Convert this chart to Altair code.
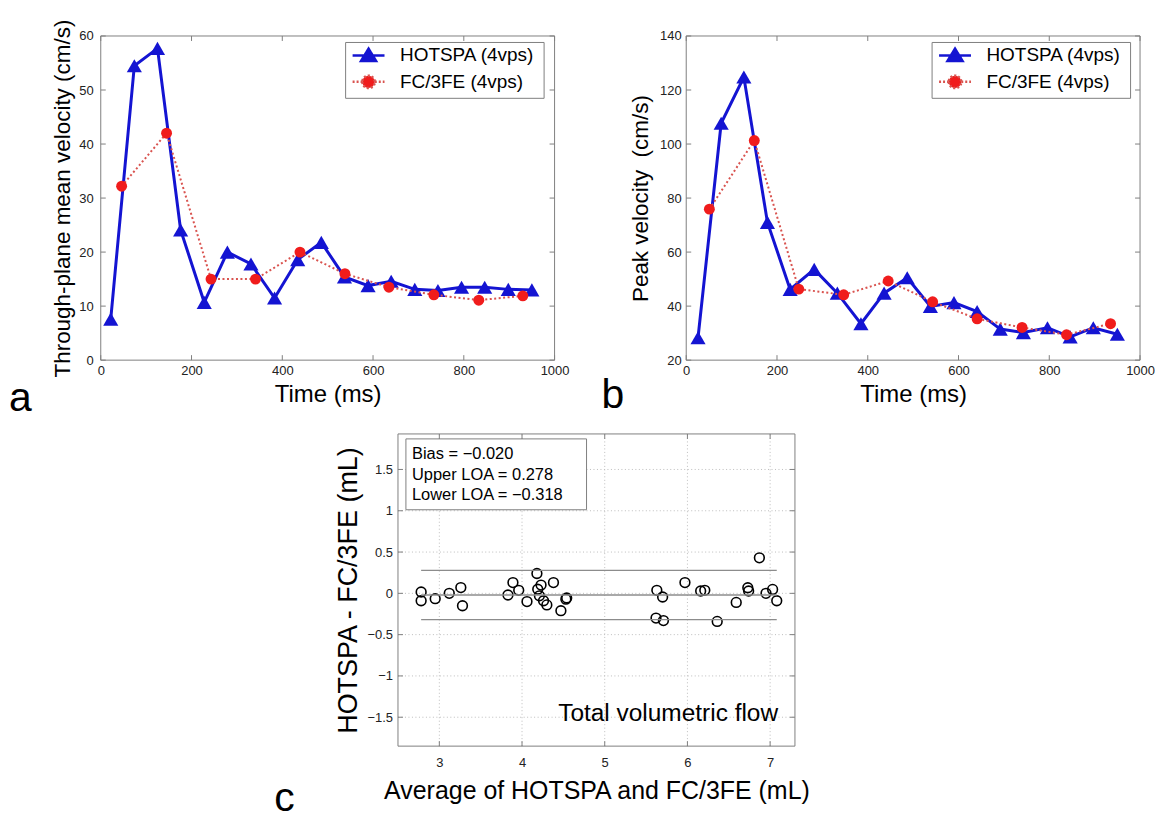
import altair as alt
import pandas as pd

# ---------------- data ----------------
series_names = ["HOTSPA (4vps)", "FC/3FE (4vps)"]

# panel a : through-plane mean velocity
a_hot_t = [22, 74, 125, 176, 228, 279, 331, 383, 434, 486, 537, 589, 640, 692, 743, 795, 846, 898, 950]
a_hot_v = [7.6, 54.5, 57.7, 24.1, 10.7, 20.0, 17.8, 11.5, 18.6, 21.8, 15.4, 13.8, 14.6, 13.1, 12.9, 13.5, 13.5, 13.1, 13.0]
a_fc_t = [46, 145, 243, 341, 439, 538, 635, 734, 833, 930]
a_fc_v = [32.2, 42.0, 15.0, 15.0, 20.0, 16.0, 13.5, 12.1, 11.1, 11.9]

# panel b : peak velocity
b_hot_t = [26, 77, 127, 179, 229, 282, 333, 385, 436, 487, 538, 590, 641, 692, 743, 796, 846, 897, 950]
b_hot_v = [28.3, 107.7, 124.8, 71.0, 46.2, 53.6, 44.8, 33.5, 44.8, 50.5, 39.9, 41.3, 38.0, 31.5, 30.2, 32.0, 28.6, 32.0, 29.6]
b_fc_t = [51, 150, 248, 347, 445, 543, 641, 740, 838, 935]
b_fc_v = [75.9, 101.3, 46.3, 44.2, 49.3, 41.6, 35.3, 32.1, 29.4, 33.5]

# panel c : Bland-Altman
c_avg = [2.78, 2.78, 2.95, 3.12, 3.26, 3.28, 3.83, 3.89, 3.96, 4.06, 4.18, 4.19, 4.23, 4.21,
         4.26, 4.30, 4.38, 4.47, 4.53, 4.54, 5.63, 5.70, 5.62, 5.71, 5.97, 6.16, 6.21, 6.36,
         6.59, 6.73, 6.74, 6.87, 6.95, 7.03, 7.08]
c_diff = [0.016, -0.09, -0.065, 0.0, 0.07, -0.15, -0.02, 0.13, 0.036, -0.10, 0.24, 0.05, 0.10, -0.03,
          -0.09, -0.14, 0.13, -0.21, -0.07, -0.056, 0.036, -0.044, -0.30, -0.33, 0.13, 0.028, 0.036, -0.34,
          -0.11, 0.068, 0.028, 0.43, 0.0, 0.048, -0.09]
stat_names = ["Bias", "Upper LOA", "Lower LOA"]
stat_values = [-0.020, 0.278, -0.318]

time_ticks = [0, 200, 400, 600, 800, 1000]
a_y_ticks = [0, 10, 20, 30, 40, 50, 60]
b_y_ticks = [20, 40, 60, 80, 100, 120, 140]
c_x_ticks = [3, 4, 5, 6, 7]
c_y_ticks = [-1.5, -1, -0.5, 0, 0.5, 1, 1.5]
c_x_domain = [2.5, 7.3]
c_y_domain = [-1.85, 1.93]
panel_letters = ["a", "b", "c"]

# ---------------- styles / layout ----------------
FONT = "Liberation Sans"
BLUE = "#1414d2"
RED = "#f01c1c"
SALMON = "#d9534f"
FRAME = "#808080"
LABEL = "#222222"
GRID = "#bdbdbd"
TICK_PX = 5

W, H = 1042, 712            # whole drawing area (plot-area coordinates)
A_X, B_X = [0, 455], [587, 1042]
AB_Y = [325, 0]
C_X, C_Y = [298, 696], [712, 399]

path_hot = "M-2,0H2M0,-0.85L0.95,0.7L-0.95,0.7Z"
path_fc = "M-2,0H-0.78M0.78,0H2M-0.78,0A0.78,0.78 0 1,0 0.78,0A0.78,0.78 0 1,0 -0.78,0Z"


def inward_ticks(xf, yf, x_def, y_def, x_vals, y_vals, xdom, ydom, xpx, ypx):
    """MATLAB-like inward ticks on all four sides, drawn through the panel's scales."""
    lx = TICK_PX * (xdom[1] - xdom[0]) / xpx
    ly = TICK_PX * (ydom[1] - ydom[0]) / ypx
    bottom = pd.DataFrame({xf: x_vals, yf: [ydom[0]] * len(x_vals), "e": [ydom[0] + ly] * len(x_vals)})
    top = pd.DataFrame({xf: x_vals, yf: [ydom[1]] * len(x_vals), "e": [ydom[1] - ly] * len(x_vals)})
    left = pd.DataFrame({yf: y_vals, xf: [xdom[0]] * len(y_vals), "e": [xdom[0] + lx] * len(y_vals)})
    right = pd.DataFrame({yf: y_vals, xf: [xdom[1]] * len(y_vals), "e": [xdom[1] - lx] * len(y_vals)})
    layers = []
    for df in (bottom, top):
        layers.append(alt.Chart(df).mark_rule(color=FRAME, strokeWidth=1).encode(x=x_def, y=y_def, y2="e:Q"))
    for df in (left, right):
        layers.append(alt.Chart(df).mark_rule(color=FRAME, strokeWidth=1).encode(x=x_def, x2="e:Q", y=y_def))
    return layers


def velocity_panel(hot_t, hot_v, fc_t, fc_v, y_ticks, y_title, x_range, letter,
                   letter_x, letter_y, legend_x, y_label_pad, y_title_pad):
    hot = pd.DataFrame({"t": hot_t, "v": hot_v})
    fc = pd.DataFrame({"t": fc_t, "v": fc_v})
    leg_df = pd.DataFrame({"series": series_names, "t": [hot_t[0]] * 2, "v": [hot_v[0]] * 2})
    xdom = [time_ticks[0], time_ticks[-1]]
    ydom = [y_ticks[0], y_ticks[-1]]
    xs = alt.Scale(domain=xdom, range=x_range, nice=False, zero=False)
    ys = alt.Scale(domain=ydom, range=AB_Y, nice=False, zero=False)
    x = alt.X("t:Q", scale=xs,
              axis=alt.Axis(orient="bottom", offset=-(H - AB_Y[0]), values=time_ticks, format="d",
                            title="Time (ms)", titleFontSize=24, labelFontSize=13, labelColor=LABEL,
                            titleColor="black", ticks=False, domain=False, grid=False,
                            labelPadding=4.5, titlePadding=5, labelFlush=False))
    y = alt.Y("v:Q", scale=ys,
              axis=alt.Axis(orient="left", offset=-x_range[0], values=y_ticks, format="d",
                            title=y_title, titleFontSize=22.5, labelFontSize=13, labelColor=LABEL,
                            titleColor="black", ticks=False, domain=False, grid=False,
                            labelPadding=y_label_pad, titlePadding=y_title_pad, labelFlush=False))
    frame = alt.Chart(pd.DataFrame({"k": [0]})).mark_rect(
        fillOpacity=0, stroke=FRAME, strokeWidth=1).encode(
        x=alt.datum(xdom[0]), x2=alt.datum(xdom[1]), y=alt.datum(ydom[0]), y2=alt.datum(ydom[1]))
    ticks = inward_ticks("t", "v", x, y, time_ticks, y_ticks, xdom, ydom,
                         x_range[1] - x_range[0], AB_Y[0] - AB_Y[1])
    hot_line = alt.Chart(hot).mark_line(color=BLUE, strokeWidth=3).encode(x=x, y=y)
    hot_pts = alt.Chart(hot).mark_point(shape="triangle-up", filled=True, color=BLUE,
                                        size=230, opacity=1).encode(x=x, y=y)
    fc_line = alt.Chart(fc).mark_line(color=SALMON, strokeWidth=2,
                                      strokeDash=[2, 2.5]).encode(x=x, y=y)
    fc_pts = alt.Chart(fc).mark_point(shape="circle", filled=True, color=RED,
                                      size=120, opacity=1).encode(x=x, y=y)
    leg = alt.Legend(title="\u00a0", titleOrient="right", titlePadding=5, titleFontSize=19,
                     orient="none", legendX=legend_x, legendY=6, direction="vertical",
                     labelFontSize=19, labelColor="black", labelFont=FONT,
                     symbolSize=256, symbolStrokeWidth=2.5, symbolOpacity=1,
                     strokeColor=FRAME, fillColor="white", padding=4, rowPadding=3.5,
                     symbolOffset=10, labelOffset=22, cornerRadius=0)
    legend_layer = alt.Chart(leg_df).mark_point(filled=True).encode(
        x=x, y=y,
        fill=alt.Fill("series:N", scale=alt.Scale(domain=series_names, range=[BLUE, RED]), legend=leg),
        stroke=alt.Stroke("series:N", scale=alt.Scale(domain=series_names, range=[BLUE, SALMON]), legend=leg),
        shape=alt.Shape("series:N", scale=alt.Scale(domain=series_names, range=[path_hot, path_fc]), legend=leg),
        strokeDash=alt.StrokeDash("series:N", scale=alt.Scale(domain=series_names, range=[[1, 0], [2, 2]]), legend=leg),
        opacity=alt.value(0),
    )
    letter_layer = alt.Chart(pd.DataFrame({"lab": [letter]})).mark_text(
        align="left", baseline="alphabetic", fontSize=41, font=FONT, color="black"
    ).encode(x=alt.value(letter_x), y=alt.value(letter_y), text="lab:N")
    return alt.layer(frame, *ticks, hot_line, hot_pts, fc_line, fc_pts, legend_layer, letter_layer)


panel_a = velocity_panel(a_hot_t, a_hot_v, a_fc_t, a_fc_v, a_y_ticks,
                         "Through-plane mean velocity (cm/s)", A_X, panel_letters[0],
                         -92, 376, A_X[0] + 245, 7.5, 4)
panel_b = velocity_panel(b_hot_t, b_hot_v, b_fc_t, b_fc_v, b_y_ticks,
                         "Peak velocity\u00a0 (cm/s)", B_X, panel_letters[1],
                         B_X[0] - 85, 373, B_X[0] + 246, 5, 7)

# ---------------- panel c ----------------
cdf = pd.DataFrame({"avg": c_avg, "diff": c_diff})
c_x_scale = alt.Scale(domain=c_x_domain, range=C_X, nice=False, zero=False)
c_y_scale = alt.Scale(domain=c_y_domain, range=C_Y, nice=False, zero=False)
c_x_axis = alt.Axis(orient="bottom", values=c_x_ticks, format="~g",
                    title="Average of HOTSPA and FC/3FE (mL)",
                    titleFontSize=25, labelFontSize=13, labelColor=LABEL, titleColor="black",
                    ticks=False, domain=False, grid=False,
                    labelPadding=10, titlePadding=10, labelFlush=False)
c_y_axis = alt.Axis(orient="left", offset=-C_X[0], values=c_y_ticks, format="~g",
                    title="HOTSPA - FC/3FE (mL)",
                    titleFontSize=27, labelFontSize=13, labelColor=LABEL, titleColor="black",
                    ticks=False, domain=False, grid=False,
                    labelPadding=5.5, titlePadding=4, labelFlush=False)
cx = alt.X("avg:Q", scale=c_x_scale, axis=c_x_axis)
cy = alt.Y("diff:Q", scale=c_y_scale, axis=c_y_axis)

# dotted grid drawn from the tick values
c_vgrid = alt.Chart(pd.DataFrame({"avg": c_x_ticks})).mark_rule(
    color=GRID, strokeWidth=1, strokeDash=[1, 2.5]).encode(
    x=cx, y=alt.Y(datum=c_y_domain[0], scale=c_y_scale, axis=c_y_axis), y2=alt.datum(c_y_domain[1]))
c_hgrid = alt.Chart(pd.DataFrame({"diff": c_y_ticks})).mark_rule(
    color=GRID, strokeWidth=1, strokeDash=[1, 2.5]).encode(
    y=cy, x=alt.X(datum=c_x_domain[0], scale=c_x_scale, axis=c_x_axis), x2=alt.datum(c_x_domain[1]))

c_frame = alt.Chart(pd.DataFrame({"k": [0]})).mark_rect(
    fillOpacity=0, stroke=FRAME, strokeWidth=1).encode(
    x=alt.X(datum=c_x_domain[0], scale=c_x_scale, axis=c_x_axis), x2=alt.datum(c_x_domain[1]),
    y=alt.Y(datum=c_y_domain[0], scale=c_y_scale, axis=c_y_axis), y2=alt.datum(c_y_domain[1]))
c_ticks = inward_ticks("avg", "diff", cx, cy, c_x_ticks, c_y_ticks, c_x_domain, c_y_domain,
                       C_X[1] - C_X[0], C_Y[0] - C_Y[1])

c_layers = []
for v in stat_values:
    c_layers.append(
        alt.Chart(cdf).mark_rule(color="#8c8c8c", strokeWidth=1.3).encode(
            x=alt.X("min(avg):Q", scale=c_x_scale, axis=c_x_axis),
            x2="max(avg):Q",
            y=alt.Y(datum=v, scale=c_y_scale, axis=c_y_axis),
        )
    )
c_pts = alt.Chart(cdf).mark_point(shape="circle", filled=False, color="black", size=95,
                                  strokeWidth=1.6, opacity=1).encode(x=cx, y=cy)


def fmt(v):
    s = f"{v:.3f}"
    return s.replace("-", "\u2212")


stat_text = "\n".join(f"{n} = {fmt(v)}" for n, v in zip(stat_names, stat_values))
c_box = alt.Chart(pd.DataFrame({"k": [0]})).mark_rect(fill="white", stroke=FRAME, strokeWidth=1).encode(
    x=alt.datum(2.596), x2=alt.datum(4.78), y=alt.datum(1.87), y2=alt.datum(1.012))
c_stats = alt.Chart(pd.DataFrame({"txt": [stat_text]})).mark_text(
    align="left", baseline="top", fontSize=16.5, font=FONT, color="black", lineBreak="\n", lineHeight=20.5
).encode(x=alt.datum(2.669), y=alt.datum(1.779), text="txt:N")
c_note = alt.Chart(pd.DataFrame({"txt": ["Total volumetric flow"]})).mark_text(
    align="right", baseline="alphabetic", fontSize=24.5, font=FONT, color="black"
).encode(x=alt.datum(7.096), y=alt.datum(-1.548), text="txt:N")
c_letter = alt.Chart(pd.DataFrame({"lab": [panel_letters[2]]})).mark_text(
    align="left", baseline="alphabetic", fontSize=41, font=FONT, color="black"
).encode(x=alt.value(C_X[0] - 124), y=alt.value(C_Y[1] + 378), text="lab:N")

panel_c = alt.layer(c_vgrid, c_hgrid, c_frame, *c_ticks, c_pts, *c_layers, c_box, c_stats, c_note, c_letter)

chart = alt.layer(panel_a, panel_b, panel_c).resolve_scale(
    x="independent", y="independent", fill="independent", stroke="independent",
    shape="independent", strokeDash="independent"
).properties(
    width=W, height=H,
    autosize=alt.AutoSizeParams(type="none"),
    padding={"left": 93, "top": 27, "right": 15, "bottom": 74},
).configure(font=FONT).configure_view(strokeOpacity=0).configure_axis(
    labelFont=FONT, titleFont=FONT, titleFontWeight="normal")

chart.save("out.html", embed_options={"renderer": "svg", "actions": False})
